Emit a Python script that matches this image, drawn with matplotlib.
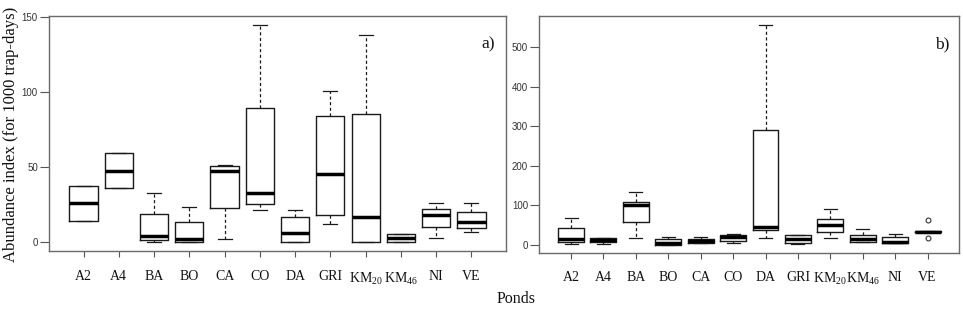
import matplotlib
matplotlib.use('Agg')
import matplotlib.pyplot as plt
from matplotlib.transforms import ScaledTranslation

plt.rcParams['mathtext.fontset'] = 'custom'
plt.rcParams['mathtext.rm'] = 'Liberation Serif'
plt.rcParams['mathtext.it'] = 'Liberation Serif:italic'
plt.rcParams['mathtext.bf'] = 'Liberation Serif:bold'

ponds = ['A2', 'A4', 'BA', 'BO', 'CA', 'CO', 'DA', 'GRI', 'KM20', 'KM46', 'NI', 'VE']
pond_labels = ['A2', 'A4', 'BA', 'BO', 'CA', 'CO', 'DA', 'GRI',
               r'$\mathregular{KM_{20}}$', r'$\mathregular{KM_{46}}$', 'NI', 'VE']

# Panel a) box statistics
a_whislo = [14.2, 36.5, 0.2, 0.0, 2.4, 21.4, 0.0, 12.5, 0.0, 0.2, 2.7, 6.7]
a_q1     = [14.2, 36.5, 1.8, 0.0, 23.1, 25.6, 0.0, 18.0, 0.0, 0.2, 10.2, 9.6]
a_med    = [26.3, 47.9, 4.5, 2.4, 47.4, 32.7, 6.2, 45.4, 16.7, 2.7, 18.3, 13.6]
a_q3     = [37.6, 59.4, 18.9, 13.8, 50.7, 89.9, 17.1, 84.1, 85.7, 5.3, 22.3, 20.5]
a_whishi = [37.6, 59.4, 32.7, 23.6, 51.4, 145.3, 21.8, 100.8, 138.2, 5.3, 26.5, 26.5]

# Panel b) box statistics
b_whislo = [2.5, 1.7, 16.9, 0.0, 3.4, 5.1, 17.7, 0.8, 16.0, 5.9, 5.1, 33.0]
b_q1     = [5.9, 6.8, 56.6, 0.0, 5.1, 8.4, 36.8, 5.1, 31.0, 7.6, 5.1, 31.3]
b_med    = [15.2, 11.8, 100.5, 3.0, 10.1, 18.6, 44.0, 15.2, 50.0, 13.8, 7.6, 33.0]
b_q3     = [41.0, 16.0, 109.0, 15.2, 14.4, 23.6, 289.7, 24.5, 65.0, 24.5, 18.6, 34.6]
b_whishi = [66.7, 16.9, 133.4, 18.6, 18.6, 27.9, 555.0, 24.5, 91.2, 38.9, 27.0, 34.6]
b_fliers = [[], [], [], [], [], [], [], [], [], [], [], [63.3, 17.7]]

a_ticks = [0, 50, 100, 150]
b_ticks = [0, 100, 200, 300, 400, 500]

a_label_dy = [0, 0, 1.5, 1, 0, 0, 0, 0, -3, -3, 0, 0]
b_label_dy = [0, 0, 3, 2.5, 0, 0, 0, -1, -3, -3, -2, 0]

serif = ['Liberation Serif', 'DejaVu Serif']
sans = ['Liberation Sans', 'DejaVu Sans']

fig = plt.figure(figsize=(9.63, 3.21), dpi=100)
fig.patch.set_facecolor('white')

ax_a = fig.add_axes([0.0509, 0.2181, 0.4745, 0.7321])
ax_b = fig.add_axes([0.5600, 0.2109, 0.4362, 0.7393])


def make_stats(lo, q1, med, q3, hi, fl=None):
    stats = []
    for i in range(len(lo)):
        stats.append(dict(whislo=lo[i], q1=q1[i], med=med[i], q3=q3[i], whishi=hi[i],
                          fliers=(fl[i] if fl else []), label=ponds[i]))
    return stats


def draw(ax, stats, ticks, ylim, label_dy, tag, pad):
    pos = list(range(1, len(stats) + 1))
    ax.bxp(stats, positions=pos, widths=0.8, capwidths=0.4, showfliers=True,
           boxprops=dict(color='#1a1a1a', linewidth=1.0),
           medianprops=dict(color='black', linewidth=2.5, solid_capstyle='butt'),
           whiskerprops=dict(color='#1a1a1a', linewidth=0.9, linestyle=(0, (2.5, 2.0))),
           capprops=dict(color='#1a1a1a', linewidth=0.9),
           flierprops=dict(marker='o', markersize=3.5, markerfacecolor='none',
                           markeredgecolor='#333333', markeredgewidth=0.8))
    n = len(stats)
    ax.set_xlim(0.5 - 0.04 * n, n + 0.5 + 0.04 * n)
    ax.set_ylim(*ylim)
    ax.set_yticks(ticks)
    ax.set_yticklabels([str(t) for t in ticks], fontfamily=sans, fontsize=7, color='#333333')
    ax.set_xticks(pos)
    ax.set_xticklabels(pond_labels, fontfamily=serif, fontsize=10, color='#111111')
    for lab, dy in zip(ax.get_xticklabels(), label_dy):
        lab.set_transform(lab.get_transform() + ScaledTranslation(0, -dy / 100.0, fig.dpi_scale_trans))
    ax.tick_params(axis='y', length=6.5, width=0.8, color='#555555', pad=1.5)
    ax.tick_params(axis='x', length=4.5, width=0.8, color='#555555', pad=pad)
    for s in ax.spines.values():
        s.set_color('#6a6a6a')
        s.set_linewidth(1.0)
    ax.text(0.96, 0.88, tag, transform=ax.transAxes, ha='center', va='center',
            fontfamily=serif, fontsize=12.5, color='#111111')


draw(ax_a, make_stats(a_whislo, a_q1, a_med, a_q3, a_whishi), a_ticks, (-5.8, 151.0), a_label_dy, 'a)', 9.5)
draw(ax_b, make_stats(b_whislo, b_q1, b_med, b_q3, b_whishi, b_fliers), b_ticks, (-22.2, 579.0), b_label_dy, 'b)', 8.5)

fig.text(0.011, 0.58, 'Abundance index (for 1000 trap-days)', rotation=90, ha='center', va='center',
         fontfamily=serif, fontsize=12, color='#111111')
fig.text(0.536, 0.068, 'Ponds', ha='center', va='center', fontfamily=serif, fontsize=11.5, color='#111111')

fig.savefig('out.png', dpi=100, facecolor='white')
